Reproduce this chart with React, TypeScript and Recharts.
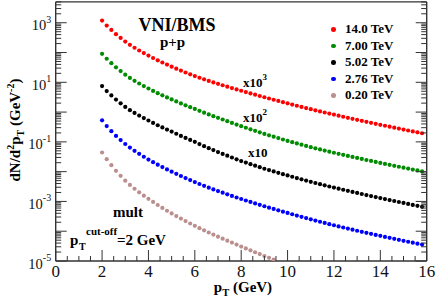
import { ScatterChart, Scatter, XAxis, YAxis, Legend } from "recharts";

// pT grid of the VNI/BMS points (GeV)
const PT = [
  2.0, 2.2, 2.4, 2.6, 2.8, 3.0, 3.2, 3.4, 3.6, 3.8, 4.0, 4.2, 4.4, 4.6, 4.8,
  5.0, 5.2, 5.4, 5.6, 5.8, 6.0, 6.2, 6.4, 6.6, 6.8, 7.0, 7.2, 7.4, 7.6, 7.8,
  8.0, 8.2, 8.4, 8.6, 8.8, 9.0, 9.2, 9.4, 9.6, 9.8, 10.0, 10.2, 10.4, 10.6, 10.8,
  11.0, 11.2, 11.4, 11.6, 11.8, 12.0, 12.2, 12.4, 12.6, 12.8, 13.0, 13.2, 13.4, 13.6, 13.8,
  14.0, 14.2, 14.4, 14.6, 14.8, 15.0, 15.2, 15.4, 15.6, 15.8,
];

// log10 of dN/d^2pT (GeV^-2), scale factors already applied
const LOG_14TEV = [
  3.073, 2.905, 2.758, 2.617, 2.489, 2.368, 2.257, 2.160, 2.068, 1.981, 1.897, 1.816, 1.739, 1.665, 1.594,
  1.526, 1.459, 1.393, 1.329, 1.269, 1.210, 1.153, 1.099, 1.047, 0.997, 0.948, 0.901, 0.854, 0.807, 0.761,
  0.716, 0.672, 0.627, 0.584, 0.541, 0.498, 0.456, 0.415, 0.374, 0.333, 0.293, 0.253, 0.213, 0.174, 0.136,
  0.098, 0.061, 0.024, -0.013, -0.050, -0.085, -0.121, -0.156, -0.191, -0.226, -0.260, -0.294, -0.328, -0.361, -0.394,
  -0.426, -0.459, -0.491, -0.523, -0.555, -0.586, -0.618, -0.649, -0.680, -0.711,
];
const LOG_7TEV = [
  1.958, 1.791, 1.644, 1.504, 1.376, 1.256, 1.146, 1.051, 0.960, 0.875, 0.792, 0.712, 0.636, 0.563, 0.493,
  0.426, 0.358, 0.291, 0.226, 0.165, 0.105, 0.041, -0.020, -0.079, -0.136, -0.192, -0.249, -0.306, -0.363, -0.419,
  -0.474, -0.526, -0.579, -0.630, -0.681, -0.732, -0.780, -0.827, -0.874, -0.921, -0.967, -1.010, -1.053, -1.095, -1.136,
  -1.177, -1.215, -1.253, -1.291, -1.329, -1.365, -1.401, -1.436, -1.471, -1.506, -1.540, -1.574, -1.608, -1.641, -1.674,
  -1.706, -1.739, -1.771, -1.803, -1.835, -1.866, -1.898, -1.929, -1.960, -1.991,
];
const LOG_5TEV = [
  0.873, 0.706, 0.560, 0.420, 0.293, 0.173, 0.065, -0.029, -0.118, -0.202, -0.283, -0.364, -0.441, -0.515, -0.586,
  -0.654, -0.727, -0.799, -0.869, -0.935, -1.000, -1.073, -1.143, -1.211, -1.277, -1.342, -1.403, -1.464, -1.525, -1.585,
  -1.644, -1.696, -1.749, -1.800, -1.851, -1.902, -1.948, -1.993, -2.038, -2.083, -2.127, -2.171, -2.215, -2.258, -2.300,
  -2.342, -2.381, -2.420, -2.459, -2.498, -2.535, -2.572, -2.608, -2.644, -2.680, -2.715, -2.750, -2.785, -2.819, -2.853,
  -2.886, -2.920, -2.953, -2.986, -3.019, -3.051, -3.084, -3.116, -3.148, -3.180,
];
const LOG_276TEV = [
  -0.277, -0.469, -0.640, -0.799, -0.939, -1.072, -1.193, -1.300, -1.402, -1.499, -1.593, -1.681, -1.765, -1.846, -1.924,
  -1.999, -2.073, -2.146, -2.217, -2.284, -2.350, -2.415, -2.477, -2.537, -2.595, -2.652, -2.706, -2.760, -2.814, -2.867,
  -2.919, -2.968, -3.018, -3.066, -3.114, -3.162, -3.208, -3.253, -3.298, -3.343, -3.387, -3.431, -3.475, -3.518, -3.560,
  -3.602, -3.642, -3.682, -3.722, -3.762, -3.800, -3.838, -3.875, -3.912, -3.949, -3.985, -4.020, -4.055, -4.089, -4.123,
  -4.156, -4.190, -4.223, -4.256, -4.289, -4.321, -4.354, -4.386, -4.418, -4.450,
];
const LOG_020TEV = [
  -1.357, -1.581, -1.784, -1.973, -2.141, -2.302, -2.445, -2.574, -2.694, -2.805, -2.913, -3.018, -3.119, -3.217, -3.312,
  -3.404, -3.491, -3.577, -3.661, -3.741, -3.820, -3.897, -3.971, -4.043, -4.113, -4.182, -4.249, -4.316, -4.383, -4.449,
  -4.514, -4.578, -4.643, -4.706, -4.769, -4.832, -4.894, -4.955,
];

const SERIES = [
  { name: "14.0 TeV", color: "#ff0000", logs: LOG_14TEV },
  { name: "7.00 TeV", color: "#008b00", logs: LOG_7TEV },
  { name: "5.02 TeV", color: "#000000", logs: LOG_5TEV },
  { name: "2.76 TeV", color: "#0000ff", logs: LOG_276TEV },
  { name: "0.20 TeV", color: "#bc8f8f", logs: LOG_020TEV },
];

const X_MAJOR = [0, 2, 4, 6, 8, 10, 12, 14, 16];
const X_TICKS = [
  0, 0.5, 1, 1.5, 2, 2.5, 3, 3.5, 4, 4.5, 5, 5.5, 6, 6.5, 7, 7.5, 8,
  8.5, 9, 9.5, 10, 10.5, 11, 11.5, 12, 12.5, 13, 13.5, 14, 14.5, 15, 15.5, 16,
];
const Y_DECADES = [-5, -4, -3, -2, -1, 0, 1, 2, 3];
const Y_LABELED = [3, 1, -1, -3, -5];
const Y_TOP = 3.7;
const Y_TICKS = [
  ...Y_DECADES,
  ...Y_DECADES.flatMap((n) => [2, 3, 4, 5, 6, 7, 8, 9].map((k) => n + Math.log10(k))),
].filter((v) => v <= Y_TOP);

const FONT = "'Liberation Serif', 'Times New Roman', serif";
const AXIS = "#333";
const serif = { fontFamily: FONT };

function LeftTick({ x, y, payload }: any) {
  const v = payload.value;
  const major = Number.isInteger(v);
  return (
    <g>
      <line x1={x} y1={y} x2={x + (major ? 11 : 5.5)} y2={y} stroke={AXIS} strokeWidth={1} />
      {major && Y_LABELED.includes(v) && (
        <text x={x - 4.5} y={y + 7.5} textAnchor="end" style={serif} fontSize={14.5} fill="#111">
          10<tspan dy={-7.5} fontSize={10}>{v}</tspan>
        </text>
      )}
    </g>
  );
}

function RightTick({ x, y, payload }: any) {
  const major = Number.isInteger(payload.value);
  return <line x1={x} y1={y} x2={x - (major ? 11 : 5.5)} y2={y} stroke={AXIS} strokeWidth={1} />;
}

function BottomTick({ x, y, payload }: any) {
  const v = payload.value;
  const major = X_MAJOR.includes(v);
  return (
    <g>
      <line x1={x} y1={y} x2={x} y2={y - (major ? 11 : 5)} stroke={AXIS} strokeWidth={1} />
      {major && (
        <text x={x} y={y + 15.5} textAnchor="middle" style={serif} fontSize={17} fill="#111">
          {v}
        </text>
      )}
    </g>
  );
}

function TopTick({ x, y, payload }: any) {
  const major = X_MAJOR.includes(payload.value);
  return <line x1={x} y1={y} x2={x} y2={y + (major ? 11 : 5)} stroke={AXIS} strokeWidth={1} />;
}

function LegendBox() {
  return (
    <div style={{ fontFamily: FONT, fontWeight: "bold", fontSize: 13, lineHeight: "16.6px", color: "#000" }}>
      {SERIES.map((s) => (
        <div key={s.name} style={{ display: "flex", alignItems: "center", height: 16.6 }}>
          <span
            style={{
              display: "inline-block",
              width: 4.6,
              height: 4.6,
              borderRadius: "50%",
              background: s.color,
              marginLeft: 2,
              marginRight: 9.4,
            }}
          />
          <span>{s.name}</span>
        </div>
      ))}
    </div>
  );
}

export default function App() {
  const axisLine = { stroke: AXIS, strokeWidth: 1.4 };
  return (
    <div style={{ position: "absolute", left: 0, top: 0, width: 436, height: 298, background: "#fff" }}>
      <ScatterChart width={436} height={298} margin={{ top: 0.9, right: 8.3, bottom: 1, left: 0 }}>
        <XAxis
          xAxisId="b"
          dataKey="pt"
          type="number"
          domain={[0, 16]}
          ticks={X_TICKS}
          interval={0}
          height={36}
          tickLine={false}
          tickSize={0}
          tickMargin={0}
          axisLine={axisLine}
          tick={BottomTick}
          allowDataOverflow
        />
        <XAxis
          xAxisId="t"
          orientation="top"
          type="number"
          domain={[0, 16]}
          ticks={X_TICKS}
          interval={0}
          height={1}
          tickLine={false}
          tickSize={0}
          tickMargin={0}
          axisLine={axisLine}
          tick={TopTick}
          allowDataOverflow
        />
        <YAxis
          yAxisId="l"
          dataKey="y"
          type="number"
          domain={[-5, Y_TOP]}
          ticks={Y_TICKS}
          interval={0}
          width={55.7}
          tickLine={false}
          tickSize={0}
          tickMargin={0}
          axisLine={axisLine}
          tick={LeftTick}
          allowDataOverflow
        />
        <YAxis
          yAxisId="r"
          orientation="right"
          type="number"
          domain={[-5, Y_TOP]}
          ticks={Y_TICKS}
          interval={0}
          width={1}
          tickLine={false}
          tickSize={0}
          tickMargin={0}
          axisLine={axisLine}
          tick={RightTick}
          allowDataOverflow
        />
        {SERIES.map((s) => (
          <Scatter
            key={s.name}
            name={s.name}
            xAxisId="b"
            yAxisId="l"
            data={s.logs.map((v, i) => ({ pt: PT[i], y: v }))}
            fill={s.color}
            isAnimationActive={false}
            shape={(p: any) => <circle cx={p.cx} cy={p.cy} r={2.1} fill={s.color} />}
          />
        ))}
        <Legend
          layout="vertical"
          align="center"
          verticalAlign="middle"
          width={100}
          content={LegendBox}
          wrapperStyle={{ left: 329, top: 21, width: 100, height: 84 }}
        />
      </ScatterChart>
      <svg
        width={436}
        height={298}
        style={{ position: "absolute", left: 0, top: 0, pointerEvents: "none", fontFamily: FONT }}
        fontWeight="bold"
        fill="#000"
      >
        <text x={177} y={31} textAnchor="middle" fontSize={18}>VNI/BMS</text>
        <text x={172.5} y={46.5} textAnchor="middle" fontSize={15}>p+p</text>
        <text x={243} y={86.5} fontSize={13}>
          x10<tspan dy={-7} fontSize={9}>3</tspan>
        </text>
        <text x={243} y={122} fontSize={13}>
          x10<tspan dy={-7} fontSize={9}>2</tspan>
        </text>
        <text x={248} y={157} fontSize={13}>x10</text>
        <text x={113} y={217} fontSize={15}>mult</text>
        <text y={245} fontSize={15}>
          <tspan x={70}>p</tspan>
          <tspan x={79} dy={5} fontSize={10}>T</tspan>
          <tspan x={86} dy={-15} fontSize={11}>cut-off</tspan>
          <tspan x={117} dy={10}>=2 GeV</tspan>
        </text>
        <text x={243} y={292} textAnchor="middle" fontSize={15}>
          p<tspan dy={4} fontSize={10.5}>T</tspan>
          <tspan dy={-4}> (GeV)</tspan>
        </text>
        <text transform="translate(20,130) rotate(-90)" textAnchor="middle" fontSize={15}>
          dN/d<tspan dy={-6} fontSize={10}>2</tspan>
          <tspan dy={6}>p</tspan>
          <tspan dy={4} fontSize={10}>T</tspan>
          <tspan dy={-4}> (GeV</tspan>
          <tspan dy={-6} fontSize={10}>-2</tspan>
          <tspan dy={6}>)</tspan>
        </text>
      </svg>
    </div>
  );
}
